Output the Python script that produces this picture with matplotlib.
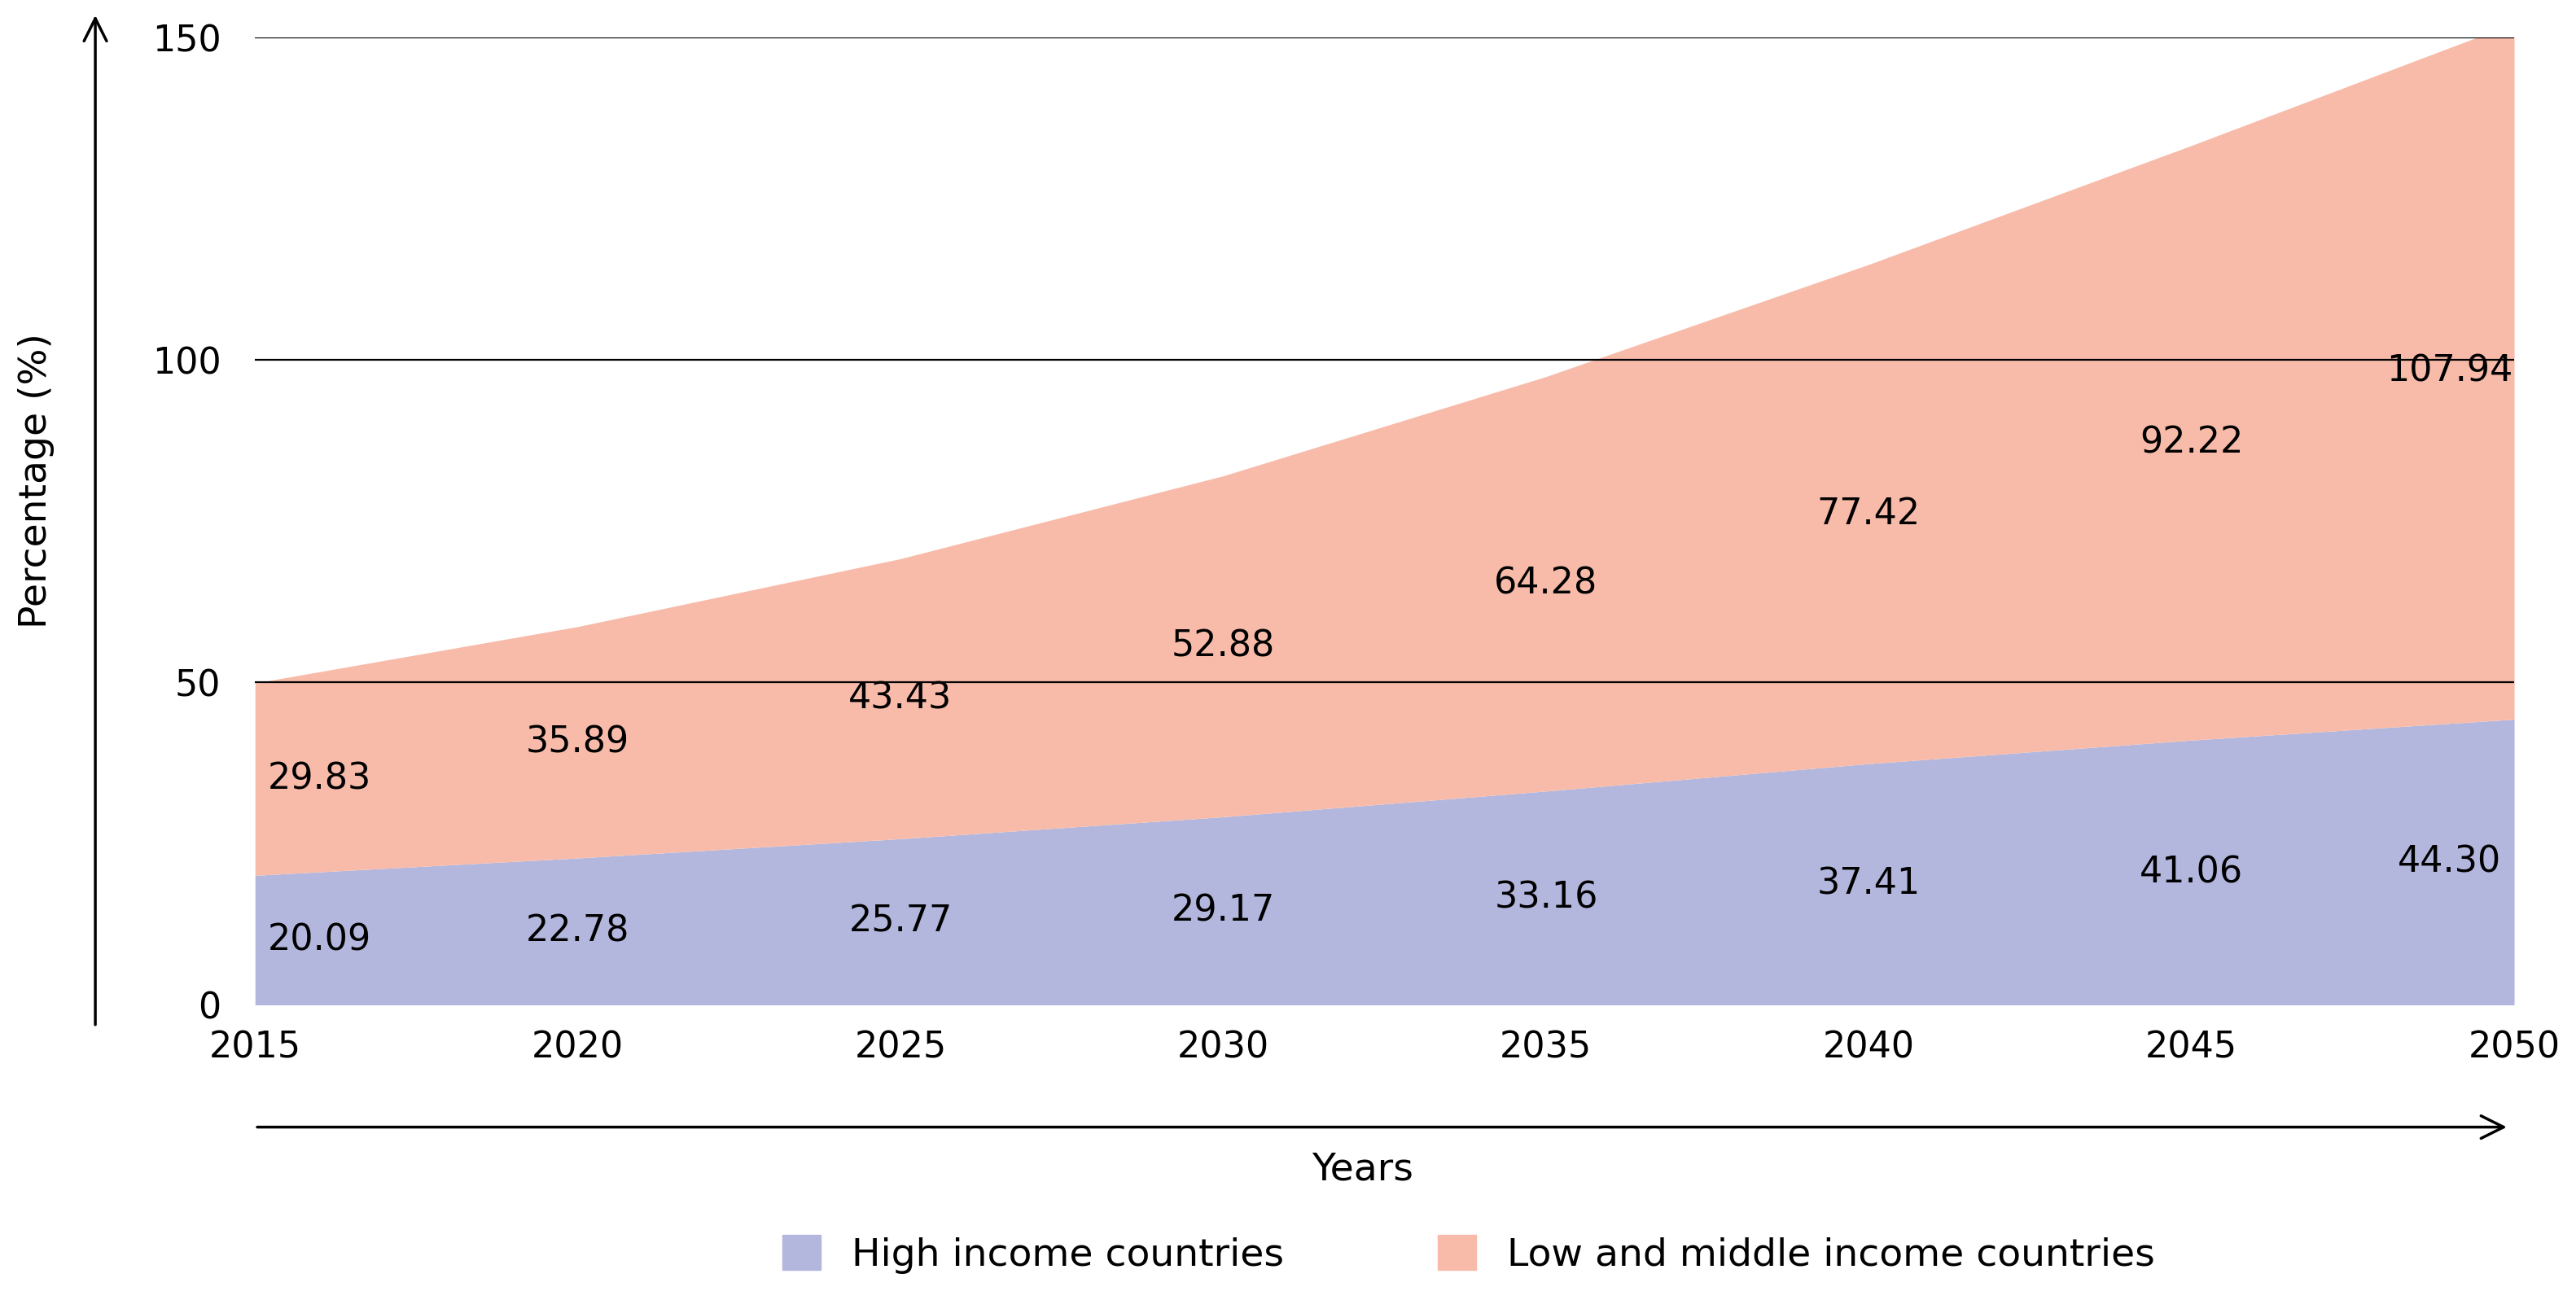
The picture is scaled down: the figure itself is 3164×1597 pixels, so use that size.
import matplotlib.pyplot as plt
from matplotlib.patches import Patch

years = [2015, 2020, 2025, 2030, 2035, 2040, 2045, 2050]
high_income = [20.09, 22.78, 25.77, 29.17, 33.16, 37.41, 41.06, 44.30]
low_middle_income = [29.83, 35.89, 43.43, 52.88, 64.28, 77.42, 92.22, 107.94]
y_ticks = [0, 50, 100, 150]

blue = "#b3b7dd"
pink = "#f8bba9"
fs = 32

fig = plt.figure(figsize=(31.64, 15.97), dpi=100)
ax = fig.add_axes([0.099, 0.227, 0.877, 0.744])

top = [h + l for h, l in zip(high_income, low_middle_income)]
ax.fill_between(years, 0, high_income, color=blue, lw=0)
ax.fill_between(years, high_income, top, color=pink, lw=0)

for y in y_ticks[1:]:
    ax.axhline(y, color="black", lw=1.6, zorder=3)

# labels sit inside the areas, nudged inward at the ends
for i, yr in enumerate(years):
    x = yr + (1.0 if i == 0 else -1.0 if i == len(years) - 1 else 0)
    ax.text(x, high_income[i] / 2, f"{high_income[i]:.2f}", ha="center", va="center", fontsize=fs)
    ax.text(x, high_income[i] + low_middle_income[i] / 2, f"{low_middle_income[i]:.2f}",
            ha="center", va="center", fontsize=fs)

ax.set_xlim(2015, 2050)
ax.set_ylim(0, 150)
ax.set_xticks(years)
ax.set_yticks(y_ticks)
ax.tick_params(labelsize=fs, length=0, pad=22)
ax.tick_params(axis="y", pad=30)
for s in ax.spines.values():
    s.set_visible(False)

# axis arrows
fig.add_artist(plt.Line2D([0, 0], [0, 0], visible=False))
ax.annotate("", xy=(0.037, 0.99), xytext=(0.037, 0.21), xycoords="figure fraction",
            arrowprops=dict(arrowstyle="->", lw=2.5, mutation_scale=50, color="black"))
ax.annotate("", xy=(0.974, 0.133), xytext=(0.099, 0.133), xycoords="figure fraction",
            arrowprops=dict(arrowstyle="->", lw=2.5, mutation_scale=50, color="black"))

fig.text(0.014, 0.63, "Percentage (%)", rotation=90, ha="center", va="center", fontsize=fs + 2)
fig.text(0.529, 0.1, "Years", ha="center", va="center", fontsize=fs + 2)

fig.legend(handles=[Patch(color=blue, label="High income countries"),
                    Patch(color=pink, label="Low and middle income countries")],
           loc="center", bbox_to_anchor=(0.57, 0.035), ncol=2, frameon=False,
           fontsize=fs + 2, handlelength=1.0, handleheight=1.0, columnspacing=4)

fig.savefig("out.png")
